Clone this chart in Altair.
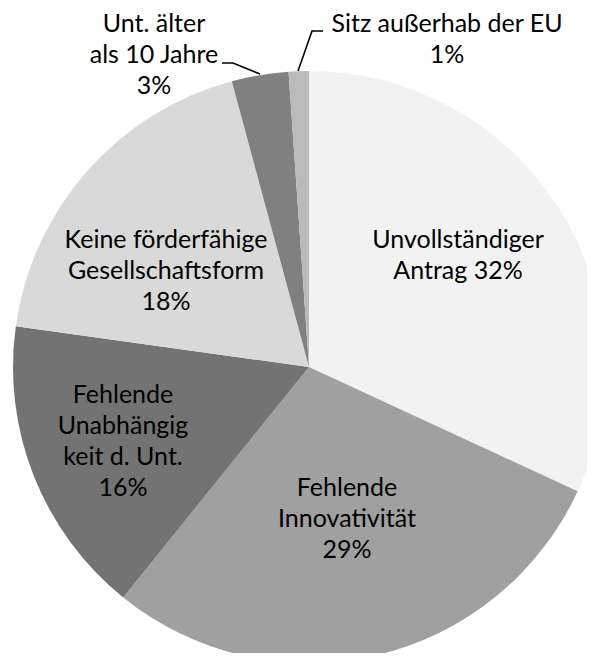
import altair as alt
import pandas as pd

# ---- data ----
categories = [
    "Unvollständiger Antrag",
    "Fehlende Innovativität",
    "Fehlende Unabhängigkeit d. Unt.",
    "Keine förderfähige Gesellschaftsform",
    "Unt. älter als 10 Jahre",
    "Sitz außerhab der EU",
]
shares = [31.9, 28.9, 16.4, 18.6, 3.1, 1.1]
pct_labels = ["32%", "29%", "16%", "18%", "3%", "1%"]
label_text = [
    "Unvollständiger\nAntrag 32%",
    "Fehlende\nInnovativität\n29%",
    "Fehlende\nUnabhängig\nkeit d. Unt.\n16%",
    "Keine förderfähige\nGesellschaftsform\n18%",
    "Unt. älter\nals 10 Jahre\n3%",
    "Sitz außerhab der EU\n1%",
]
slice_colors = ["#f2f2f2", "#a0a0a0", "#737373", "#d9d9d9", "#808080", "#bababa"]

# ---- layout (plot-area pixel coordinates; first text line position) ----
CX, CY, R = 301, 359, 296
label_pos = [(450, 232), (339, 480), (115, 387), (158, 232), (146, 16), (439, 16)]
leader_lines = {
    "Unt. älter als 10 Jahre": [(214, 55), (225, 55), (252, 66)],
    "Sitz außerhab der EU": [(315, 23), (304, 23), (290, 63)],
}

pie_df = pd.DataFrame({"cat": categories, "share": shares, "idx": range(len(categories))})
lab_df = pd.DataFrame({
    "text": label_text,
    "x": [p[0] for p in label_pos],
    "y": [p[1] for p in label_pos],
})
rows = []
for k, pts in leader_lines.items():
    for i, (x, y) in enumerate(pts):
        rows.append({"grp": k, "i": i, "x": x, "y": y})
line_df = pd.DataFrame(rows)

pie = alt.Chart(pie_df).mark_arc(radius=R).encode(
    theta=alt.Theta("share:Q", stack=True),
    order=alt.Order("idx:Q"),
    color=alt.Color("cat:N", scale=alt.Scale(domain=categories, range=slice_colors), legend=None),
    x=alt.value(CX),
    y=alt.value(CY),
)

labels = alt.Chart(lab_df).mark_text(
    font="Lato", fontSize=25, color="#000000", lineBreak="\n",
    lineHeight=31, align="center", baseline="middle",
).encode(
    x=alt.X("x:Q", scale=None, axis=None),
    y=alt.Y("y:Q", scale=None, axis=None),
    text="text:N",
)

leaders = alt.Chart(line_df).mark_line(color="#000000", strokeWidth=1.6).encode(
    x=alt.X("x:Q", scale=None, axis=None),
    y=alt.Y("y:Q", scale=None, axis=None),
    detail="grp:N",
    order="i:Q",
)

chart = alt.layer(pie, leaders, labels).properties(
    width=579, height=645,
    autosize=alt.AutoSizeParams(type="none"),
    padding=0,
).configure_view(stroke=None)

chart.save("out.html", embed_options={"renderer": "svg", "actions": False})
